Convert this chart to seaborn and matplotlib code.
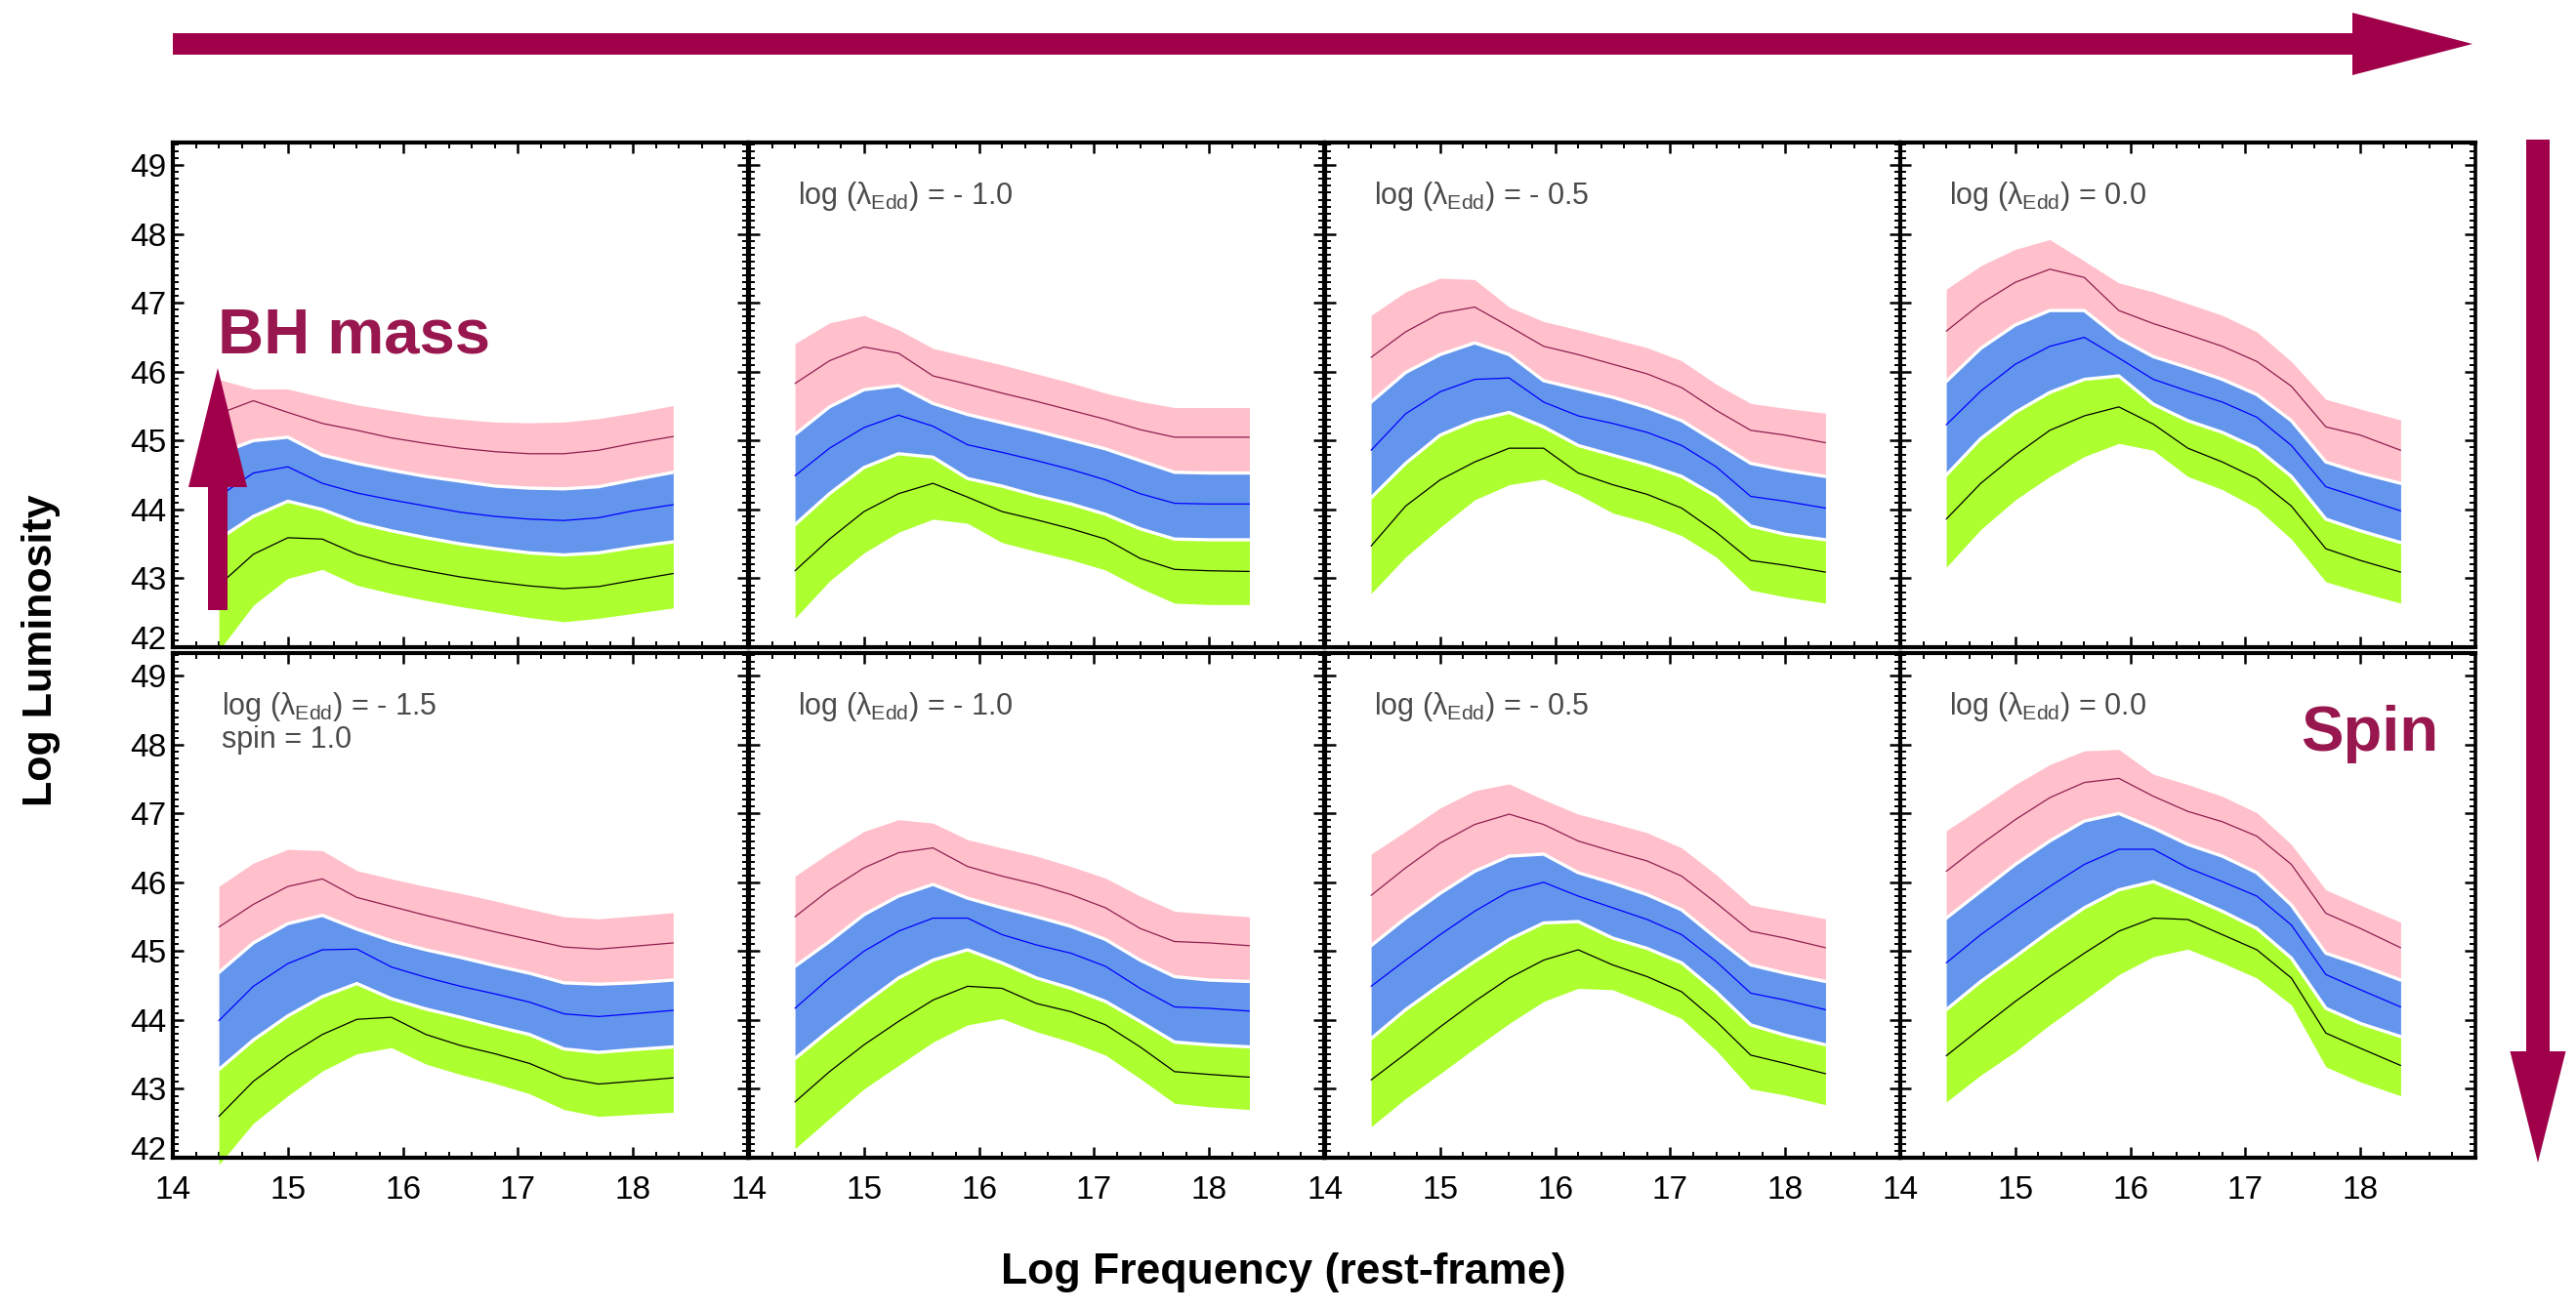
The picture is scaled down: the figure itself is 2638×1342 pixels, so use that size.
import numpy as np
import pandas as pd
import seaborn as sns
import matplotlib.pyplot as plt
from matplotlib import font_manager
from matplotlib.ticker import MultipleLocator
from matplotlib.patches import FancyArrow
from matplotlib.transforms import ScaledTranslation

# log frequency grid shared by every panel
FREQ = [14.4, 14.7, 15.0, 15.3, 15.6, 15.9, 16.2, 16.5, 16.8, 17.1, 17.4, 17.7, 18.0, 18.35]

# panel order: top row left->right, then bottom row left->right
LAMBDA_LABELS = ['', '- 1.0', '- 0.5', '0.0', '- 1.5', '- 1.0', '- 0.5', '0.0']

# upper edge of the pink (highest mass) band
PINK_TOP = [
    [45.89, 45.75, 45.75, 45.63, 45.52, 45.44, 45.36, 45.31, 45.27, 45.26, 45.27, 45.32, 45.40, 45.51],
    [46.41, 46.71, 46.82, 46.61, 46.34, 46.22, 46.10, 45.97, 45.84, 45.69, 45.57, 45.48, 45.48, 45.48],
    [46.82, 47.16, 47.36, 47.34, 46.94, 46.73, 46.61, 46.48, 46.35, 46.16, 45.82, 45.54, 45.47, 45.40],
    [47.20, 47.54, 47.78, 47.92, 47.61, 47.29, 47.16, 46.99, 46.82, 46.58, 46.15, 45.60, 45.46, 45.30],
    [45.94, 46.28, 46.48, 46.46, 46.17, 46.05, 45.94, 45.84, 45.73, 45.61, 45.50, 45.47, 45.51, 45.56],
    [46.09, 46.43, 46.74, 46.91, 46.86, 46.62, 46.50, 46.38, 46.23, 46.06, 45.80, 45.58, 45.54, 45.50],
    [46.41, 46.74, 47.08, 47.33, 47.43, 47.20, 46.99, 46.86, 46.72, 46.50, 46.11, 45.67, 45.58, 45.47],
    [46.75, 47.08, 47.42, 47.71, 47.91, 47.93, 47.57, 47.42, 47.25, 47.01, 46.55, 45.89, 45.67, 45.42],
]
# centre line of the pink band
PINK_MID = [
    [45.39, 45.58, 45.41, 45.25, 45.15, 45.04, 44.96, 44.89, 44.84, 44.81, 44.81, 44.86, 44.96, 45.06],
    [45.83, 46.16, 46.36, 46.27, 45.94, 45.82, 45.69, 45.57, 45.44, 45.31, 45.16, 45.05, 45.05, 45.05],
    [46.21, 46.58, 46.85, 46.94, 46.66, 46.37, 46.25, 46.11, 45.97, 45.77, 45.44, 45.15, 45.08, 44.97],
    [46.59, 46.99, 47.30, 47.49, 47.37, 46.89, 46.70, 46.54, 46.37, 46.15, 45.79, 45.20, 45.08, 44.86],
    [45.35, 45.68, 45.94, 46.05, 45.78, 45.65, 45.52, 45.40, 45.28, 45.17, 45.06, 45.03, 45.07, 45.12],
    [45.50, 45.89, 46.21, 46.43, 46.50, 46.23, 46.09, 45.97, 45.82, 45.63, 45.33, 45.14, 45.12, 45.08],
    [45.81, 46.21, 46.57, 46.84, 46.99, 46.84, 46.60, 46.45, 46.31, 46.09, 45.70, 45.29, 45.19, 45.05],
    [46.16, 46.55, 46.91, 47.23, 47.45, 47.51, 47.25, 47.03, 46.88, 46.67, 46.26, 45.55, 45.33, 45.05],
]
# boundary between the blue and pink bands
BLUE_TOP = [
    [44.81, 45.00, 45.05, 44.79, 44.67, 44.57, 44.48, 44.41, 44.34, 44.31, 44.30, 44.33, 44.43, 44.54],
    [45.09, 45.49, 45.74, 45.80, 45.54, 45.38, 45.26, 45.14, 45.01, 44.88, 44.71, 44.54, 44.53, 44.53],
    [45.56, 45.99, 46.25, 46.42, 46.25, 45.87, 45.75, 45.63, 45.48, 45.29, 44.98, 44.67, 44.57, 44.48],
    [45.86, 46.34, 46.68, 46.89, 46.89, 46.49, 46.22, 46.06, 45.89, 45.67, 45.29, 44.69, 44.53, 44.38],
    [44.69, 45.12, 45.40, 45.52, 45.32, 45.15, 45.02, 44.91, 44.79, 44.68, 44.54, 44.52, 44.54, 44.58],
    [44.78, 45.14, 45.53, 45.80, 45.97, 45.77, 45.63, 45.50, 45.36, 45.17, 44.87, 44.63, 44.58, 44.56],
    [45.08, 45.48, 45.84, 46.16, 46.38, 46.41, 46.14, 45.99, 45.82, 45.60, 45.19, 44.80, 44.68, 44.56],
    [45.48, 45.87, 46.26, 46.60, 46.89, 47.00, 46.79, 46.55, 46.38, 46.14, 45.67, 44.97, 44.80, 44.58],
]
# centre line of the blue band
BLUE_MID = [
    [44.19, 44.53, 44.62, 44.38, 44.24, 44.14, 44.05, 43.96, 43.90, 43.86, 43.84, 43.88, 43.98, 44.07],
    [44.49, 44.89, 45.19, 45.37, 45.21, 44.94, 44.83, 44.71, 44.58, 44.43, 44.23, 44.09, 44.08, 44.08],
    [44.86, 45.39, 45.71, 45.89, 45.91, 45.56, 45.36, 45.25, 45.12, 44.93, 44.62, 44.19, 44.12, 44.02],
    [45.23, 45.72, 46.11, 46.37, 46.50, 46.20, 45.89, 45.72, 45.56, 45.34, 44.93, 44.33, 44.17, 43.98],
    [43.99, 44.49, 44.82, 45.02, 45.03, 44.77, 44.62, 44.49, 44.38, 44.26, 44.09, 44.05, 44.09, 44.14],
    [44.17, 44.61, 45.00, 45.29, 45.48, 45.48, 45.24, 45.09, 44.97, 44.78, 44.46, 44.19, 44.17, 44.13],
    [44.49, 44.87, 45.24, 45.58, 45.87, 46.00, 45.80, 45.63, 45.46, 45.24, 44.85, 44.39, 44.29, 44.15],
    [44.83, 45.24, 45.60, 45.94, 46.26, 46.48, 46.48, 46.21, 46.01, 45.80, 45.38, 44.66, 44.44, 44.19],
]
# boundary between the green and blue bands
GREEN_TOP = [
    [43.57, 43.90, 44.12, 44.00, 43.81, 43.69, 43.59, 43.50, 43.43, 43.37, 43.34, 43.37, 43.45, 43.53],
    [43.78, 44.23, 44.61, 44.81, 44.76, 44.45, 44.34, 44.20, 44.08, 43.93, 43.72, 43.57, 43.56, 43.56],
    [44.17, 44.67, 45.08, 45.29, 45.41, 45.20, 44.93, 44.79, 44.65, 44.48, 44.19, 43.76, 43.64, 43.56],
    [44.50, 45.03, 45.41, 45.70, 45.89, 45.94, 45.53, 45.29, 45.12, 44.89, 44.48, 43.86, 43.69, 43.52],
    [43.28, 43.71, 44.06, 44.34, 44.53, 44.31, 44.16, 44.04, 43.91, 43.79, 43.58, 43.53, 43.57, 43.61],
    [43.44, 43.85, 44.24, 44.61, 44.87, 45.02, 44.83, 44.61, 44.46, 44.27, 43.98, 43.68, 43.64, 43.61],
    [43.73, 44.15, 44.51, 44.85, 45.17, 45.41, 45.43, 45.19, 45.04, 44.83, 44.41, 43.93, 43.78, 43.64],
    [44.15, 44.56, 44.92, 45.29, 45.63, 45.89, 46.01, 45.80, 45.58, 45.33, 44.90, 44.17, 43.95, 43.76],
]
# centre line of the green (lowest mass) band
GREEN_MID = [
    [42.90, 43.35, 43.59, 43.57, 43.35, 43.21, 43.11, 43.02, 42.95, 42.89, 42.85, 42.88, 42.97, 43.07],
    [43.11, 43.57, 43.97, 44.23, 44.38, 44.18, 43.97, 43.85, 43.72, 43.57, 43.29, 43.13, 43.11, 43.10],
    [43.47, 44.05, 44.43, 44.69, 44.89, 44.89, 44.53, 44.36, 44.22, 44.02, 43.67, 43.26, 43.19, 43.09],
    [43.86, 44.38, 44.79, 45.15, 45.36, 45.49, 45.24, 44.89, 44.69, 44.45, 44.05, 43.43, 43.26, 43.09],
    [42.60, 43.11, 43.48, 43.79, 44.01, 44.04, 43.79, 43.63, 43.51, 43.37, 43.16, 43.07, 43.11, 43.16],
    [42.81, 43.25, 43.64, 43.98, 44.29, 44.49, 44.46, 44.24, 44.12, 43.93, 43.61, 43.25, 43.21, 43.17],
    [43.13, 43.51, 43.90, 44.27, 44.61, 44.87, 45.02, 44.80, 44.63, 44.41, 43.98, 43.49, 43.37, 43.22],
    [43.48, 43.88, 44.27, 44.63, 44.97, 45.29, 45.48, 45.46, 45.24, 45.02, 44.61, 43.81, 43.59, 43.34],
]
# lower edge of the green band
GREEN_BOT = [
    [41.95, 42.61, 43.00, 43.13, 42.90, 42.78, 42.68, 42.59, 42.51, 42.43, 42.37, 42.42, 42.49, 42.57],
    [42.42, 42.96, 43.37, 43.67, 43.86, 43.80, 43.52, 43.39, 43.27, 43.12, 42.86, 42.64, 42.62, 42.62],
    [42.78, 43.31, 43.74, 44.14, 44.36, 44.44, 44.22, 43.95, 43.81, 43.62, 43.31, 42.83, 42.73, 42.64],
    [43.16, 43.71, 44.14, 44.48, 44.77, 44.96, 44.86, 44.48, 44.29, 44.02, 43.57, 42.95, 42.80, 42.64],
    [41.90, 42.50, 42.90, 43.26, 43.51, 43.60, 43.36, 43.21, 43.08, 42.93, 42.70, 42.60, 42.63, 42.66],
    [42.13, 42.57, 43.00, 43.34, 43.68, 43.93, 44.02, 43.83, 43.68, 43.49, 43.15, 42.79, 42.74, 42.70],
    [42.45, 42.86, 43.22, 43.59, 43.95, 44.27, 44.46, 44.44, 44.24, 44.02, 43.56, 43.00, 42.91, 42.77],
    [42.81, 43.20, 43.54, 43.93, 44.29, 44.66, 44.92, 45.03, 44.83, 44.61, 44.22, 43.32, 43.10, 42.90],
]

X_TICKS = [14, 15, 16, 17, 18]
Y_TICKS = [42, 43, 44, 45, 46, 47, 48, 49]

# colours
PINK = '#ffc0cb'
BLUE = '#6495ed'
GREEN = '#adff2f'
LINE_PINK = '#8e1f50'
LINE_BLUE = '#0000ff'
LINE_GREEN = '#000000'
ARROW = '#a0004a'
WORD = '#98174f'
GREY = '#4a4a4a'

sns.set_theme(style="white")
plt.rcParams['font.family'] = ['Liberation Sans', 'DejaVu Sans']
plt.rcParams['mathtext.fontset'] = 'custom'
plt.rcParams['mathtext.rm'] = 'Liberation Sans'
plt.rcParams['mathtext.it'] = 'Liberation Sans:italic'
plt.rcParams['mathtext.bf'] = 'Liberation Sans:bold'

# tick numbers are set in a narrow face when one is installed
installed = {f.name for f in font_manager.fontManager.ttflist}
tick_family = 'Liberation Sans Narrow' if 'Liberation Sans Narrow' in installed else 'Liberation Sans'

W, H = 2638, 1342
fig = plt.figure(figsize=(W / 100, H / 100), dpi=100)

col_left = [177, 767, 1357, 1946]
row_top = [146, 669]
pw, ph = 589, 517

axes = []
for i in range(8):
    r, c = divmod(i, 4)
    ax = fig.add_axes([col_left[c] / W, 1 - (row_top[r] + ph) / H, pw / W, ph / H])
    axes.append(ax)

    df = pd.DataFrame({'freq': FREQ,
                       'pink_top': PINK_TOP[i], 'pink_mid': PINK_MID[i],
                       'blue_top': BLUE_TOP[i], 'blue_mid': BLUE_MID[i],
                       'green_top': GREEN_TOP[i], 'green_mid': GREEN_MID[i],
                       'green_bot': GREEN_BOT[i]})

    ax.fill_between(df.freq, df.blue_top, df.pink_top, color=PINK, lw=0, zorder=1, clip_on=False)
    ax.fill_between(df.freq, df.green_top, df.blue_top, color=BLUE, lw=0, zorder=1, clip_on=False)
    ax.fill_between(df.freq, df.green_bot, df.green_top, color=GREEN, lw=0, zorder=1, clip_on=False)

    for col in ['blue_top', 'green_top']:
        sns.lineplot(data=df, x='freq', y=col, ax=ax, color='white', lw=2.4,
                     sort=False, estimator=None, zorder=2, clip_on=False)
    for col, colour in [('pink_mid', LINE_PINK), ('blue_mid', LINE_BLUE), ('green_mid', LINE_GREEN)]:
        sns.lineplot(data=df, x='freq', y=col, ax=ax, color=colour, lw=0.9,
                     sort=False, estimator=None, zorder=3, clip_on=False)

    ax.set(xlim=(14, 19), ylim=(42, 49.33), xlabel='', ylabel='')
    ax.set_xticks(X_TICKS)
    ax.set_yticks(Y_TICKS)
    ax.xaxis.set_minor_locator(MultipleLocator(0.2))
    ax.yaxis.set_minor_locator(MultipleLocator(0.1))
    ax.tick_params(which='both', direction='in', top=True, bottom=True, left=True, right=True,
                   colors='black', labelsize=24, labelleft=(c == 0), labelbottom=(r == 1))
    ax.tick_params(which='major', length=8, width=1.8, pad=5)
    ax.tick_params(axis='x', which='major', pad=13)
    ax.tick_params(which='minor', length=4, width=1.4)
    for lab in ax.get_xticklabels() + ax.get_yticklabels():
        lab.set_fontfamily(tick_family)
    for s in ax.spines.values():
        s.set_color('black')
        s.set_linewidth(3)
    if c == 3:
        ax.spines['right'].set_linestyle((0, (1.2, 1.0)))
        ax.spines['right'].set_linewidth(2.6)

    if c == 0:
        # the bottom label sits a little above the frame
        lab = ax.get_yticklabels()[0]
        lab.set_transform(lab.get_transform() + ScaledTranslation(0, 7 / 72, fig.dpi_scale_trans))

    if LAMBDA_LABELS[i] and not (r == 0 and c == 0):
        ax.text(0.085, 0.893, r'log ($\mathrm{\lambda_{Edd}}$) = ' + LAMBDA_LABELS[i],
                transform=ax.transAxes, ha='left', va='center', fontsize=22, color=GREY)

axes[4].text(0.085, 0.828, 'spin = 1.0', transform=axes[4].transAxes,
             ha='left', va='center', fontsize=22, color=GREY)

axes[0].text(14.39, 46.27, 'BH mass', ha='left', va='baseline', fontsize=47,
             fontweight='bold', color=WORD, zorder=6)
axes[7].text(17.48, 47.91, 'Spin', ha='left', va='baseline', fontsize=47,
             fontweight='bold', color=WORD, zorder=6)

fig.text(1314 / W, 1 - 1304 / H, 'Log Frequency (rest-frame)', ha='center', va='center',
         fontsize=32, fontweight='bold', color='black')
fig.text(42 / W, 1 - 666 / H, 'Log Luminosity', ha='center', va='center', rotation=90,
         fontsize=31, fontweight='bold', color='black')

# overlay in pixel units for the big arrows
ov = fig.add_axes([0, 0, 1, 1], zorder=10)
ov.set_xlim(0, W)
ov.set_ylim(H, 0)
ov.axis('off')
ov.patch.set_alpha(0)
ov.add_patch(FancyArrow(177, 45, 2355, 0, width=22, head_width=64, head_length=123,
                        length_includes_head=True, color=ARROW, lw=0))
ov.add_patch(FancyArrow(2599, 143, 0, 1048, width=24, head_width=57, head_length=114,
                        length_includes_head=True, color=ARROW, lw=0))
ov.add_patch(FancyArrow(223, 625, 0, -248, width=20, head_width=60, head_length=122,
                        length_includes_head=True, color=ARROW, lw=0))

plt.savefig('out.png', dpi=100)
